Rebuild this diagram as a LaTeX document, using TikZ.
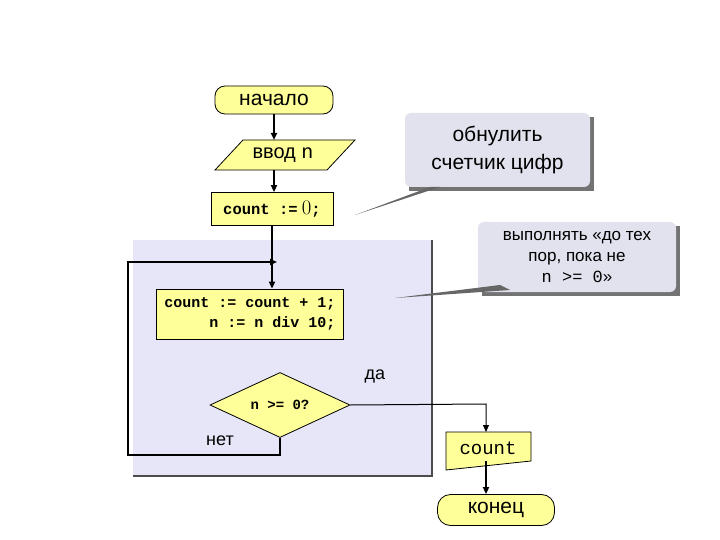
\documentclass[tikz,border=0pt]{standalone}
\usepackage{fontspec}
\setmainfont{Liberation Sans}
\setmonofont{Liberation Mono}
\usetikzlibrary{shapes.geometric,arrows.meta}
\definecolor{yel}{HTML}{FFFF99}
\definecolor{lav}{HTML}{E6E6F8}
\definecolor{cal}{HTML}{E2E2EE}
\tikzset{
 blk/.style={draw=black,fill=yel,line width=0.8pt,inner sep=0pt},
 term/.style={blk,rounded corners=10pt},
 flow/.style={line width=1.8pt,-{Triangle[length=7pt,width=6pt]}},
 thin/.style={line width=1pt,-{Triangle[length=7pt,width=6pt]}},
 calloutbox/.style={fill=cal,rounded corners=6pt,align=center},
}
\begin{document}
\begin{tikzpicture}[x=1pt,y=-1pt]
\useasboundingbox (0,0) rectangle (720,540);
\fill[white] (0,0) rectangle (720,540);
% panel
\fill[lav] (133,240) rectangle (432,476);
\draw[line width=1.5pt,black!70] (432,240) -- (432,476) -- (133,476);
% callouts
\fill[black!55] (409,117) rectangle (594,191);
\node[calloutbox,minimum width=185pt,minimum height=74pt,font=\fontsize{21}{28}\selectfont] (c1) at (497.5,150) {обнулить\\счетчик цифр};
\coordinate (t1) at (355,215);
\fill[black!60] (t1) -- (430,187) -- (440,187) -- cycle;
\fill[black!55] (482,226) rectangle (680,296);
\node[calloutbox,minimum width=198pt,minimum height=70pt,font=\fontsize{17}{21}\selectfont] (c2) at (577,257) {выполнять «до тех\\пор, пока не\\\texttt{n >= 0}»};
\coordinate (t2) at (395,298);
\fill[black!60] (t2) -- (500,285) -- (510,290) -- cycle;
% nodes
\node[term,minimum width=118pt,minimum height=28pt,font=\fontsize{21}{24}\selectfont] (start) at (274,100) {начало};
\draw[blk] (243,140) -- (355,140) -- (327,170) -- (215,170) -- cycle;
\node[font=\fontsize{20}{24}\selectfont] (in) at (283,155) {ввод \texttt{n}};
\node[blk,minimum width=122pt,minimum height=33pt,font=\fontsize{15.5}{22}\selectfont] (c0) at (272,209) {\texttt{\bfseries count :=} {\fontsize{20}{22}\selectfont$0$}\texttt{\bfseries ;}};
\node[blk,minimum width=187pt,minimum height=50pt,align=right,font=\fontsize{15}{20}\selectfont\ttfamily\bfseries] (body) at (250,314) {count := count + 1;\\n := n div 10;};
\node[blk,diamond,aspect=2.15,minimum width=140pt,minimum height=65pt,font=\fontsize{14}{16}\selectfont\ttfamily\bfseries] (cond) at (280,405) {n >= 0?};
\draw[blk] (446,432) -- (531,432) -- (531,461) -- (446,470) -- cycle;
\node[font=\fontsize{19}{22}\selectfont\ttfamily] (out) at (488,448) {count};
\node[term,minimum width=117pt,minimum height=31pt,rounded corners=13pt,font=\fontsize{21}{24}\selectfont] (fin) at (496,510) {конец};
% flows
\draw[flow] (start) -- (274,140);
\draw[flow] (274,170) -- (start|-c0.north);
\draw[flow] (c0.south) -- (c0|-body.north);
\coordinate (j) at (277,262);
\draw[flow] (cond.south) -- (280,455) -- (128,455) -- (128,262) -- (j);
\draw[thin] (cond.east) -- (486,404) -- (486,432);
\draw[flow] (486,461) -- (fin.north-|486,0);
\node[font=\fontsize{18}{20}\selectfont] (da) at (375,376) {да};
\node[font=\fontsize{18}{20}\selectfont] (net) at (220,441) {нет};
\end{tikzpicture}
\end{document}
